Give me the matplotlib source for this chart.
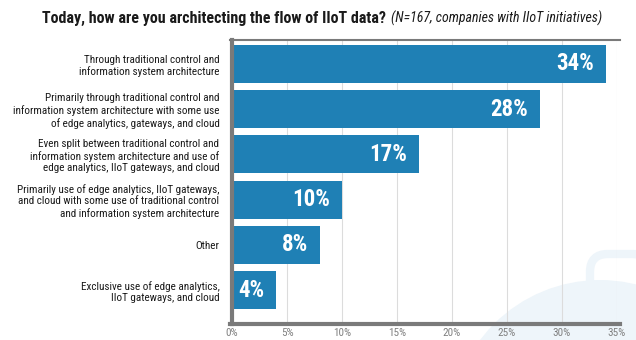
import matplotlib
matplotlib.use("Agg")
import matplotlib.pyplot as plt
from matplotlib.patches import Circle, FancyBboxPatch

categories = [
    "Through traditional control and\ninformation system architecture",
    "Primarily through traditional control and\ninformation system architecture with some use\nof edge analytics, gateways, and cloud",
    "Even split between traditional control and\ninformation system architecture and use of\nedge analytics, IIoT gateways, and cloud",
    "Primarily use of edge analytics, IIoT gateways,\nand cloud with some use of traditional control\nand information system architecture",
    "Other",
    "Exclusive use of edge analytics,\nIIoT gateways, and cloud",
]
values = [34, 28, 17, 10, 8, 4]
ticks = [0, 5, 10, 15, 20, 25, 30, 35]

font = ["Roboto Condensed", "DejaVu Sans"]
plt.rcParams["font.family"] = font
bar_color = "#1f80b5"
axis_gray = "#7a7a7a"

fig = plt.figure(figsize=(6.36, 3.4), dpi=100)

# faint decorative shape in the lower right
bg = fig.add_axes([0, 0, 1, 1], zorder=0)
bg.set_xlim(0, 636)
bg.set_ylim(340, 0)
bg.axis("off")
bg.add_patch(Circle((600, 430), 150, color="#eef5fa", lw=0))
bg.add_patch(FancyBboxPatch((590, 254), 60, 60, boxstyle="round,pad=0,rounding_size=18",
                            fill=False, ec="#eef5fa", lw=6))

ax = fig.add_axes([232 / 636, 16 / 340, 385 / 636, 284 / 340], zorder=1)
ax.patch.set_alpha(0)
pos = list(range(len(values)))
ax.barh(pos, values, height=0.84, color=bar_color, zorder=2)
for p, v in zip(pos, values):
    ax.text(v - 1.05, p, f"{v}%", ha="right", va="center", color="white",
            fontsize=16.5, fontweight="bold", zorder=3)

ax.set_xlim(0, 35)
ax.set_ylim(len(values) - 0.25, -0.53)
ax.set_xticks(ticks)
ax.set_xticklabels([f"{t}%" for t in ticks], color="#808080", fontsize=8)
ax.set_yticks(pos)
ax.set_yticklabels(categories, fontsize=8, color="#1a1a1a", linespacing=1.2)
ax.tick_params(axis="y", length=0, pad=9)
ax.tick_params(axis="x", length=0, pad=3)
ax.xaxis.grid(True, color="#dcdcdc", lw=0.8, zorder=0)
ax.spines["right"].set_visible(False)
for s in ["left", "bottom", "top"]:
    ax.spines[s].set_color(axis_gray)
    ax.spines[s].set_linewidth(3)
ax.spines["top"].set_linewidth(1.5)
ax.spines["bottom"].set_bounds(-0.2, 35.3)
ax.spines["top"].set_bounds(-0.2, 35.3)

t1 = fig.text(42 / 636, 0.945, "Today, how are you architecting the flow of IIoT data?",
              fontsize=11.5, fontweight="bold", color="#1a1a1a", va="center")
fig.canvas.draw()
bb = t1.get_window_extent()
fig.text((bb.x1 + 5) / 636, 0.945, "(N=167, companies with IIoT initiatives)",
         fontsize=10, fontstyle="italic", color="#1a1a1a", va="center")

fig.savefig("out.png", dpi=100)
